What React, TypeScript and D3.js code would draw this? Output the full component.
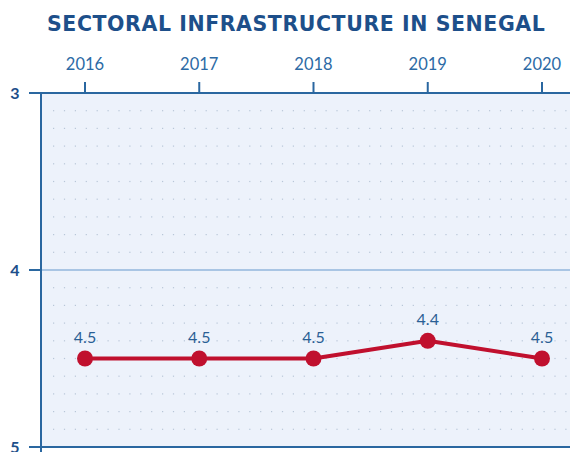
import React from "react";
import * as d3 from "d3";

const years = [2016, 2017, 2018, 2019, 2020];
const values = [4.5, 4.5, 4.5, 4.4, 4.5];
const yTicks = [3, 4, 5];
const title = "SECTORAL INFRASTRUCTURE IN SENEGAL";

export default function App() {
  const W = 570, H = 452;
  const x = d3.scaleLinear().domain([2016, 2020]).range([85, 542]);
  const y = d3.scaleLinear().domain([3, 5]).range([93, 447]);
  const left = 41;
  const right = 600;
  const axisColor = "#2a67a0";
  const line = d3.line<number>().x((_, i) => x(years[i])).y((d) => y(d));
  const minor = d3.range(3.1, 5, 0.1).filter((v) => Math.abs(v - 4) > 0.01);
  const dotXs = d3.range(left + 12, right, 10.9);
  return (
    <svg width={W} height={H} style={{ position: "absolute", left: 0, top: 0, background: "#fff" }}>
      <text x={296} y={31} textAnchor="middle" fontFamily="DejaVu Sans" fontWeight={700} fontSize={20.5} fill="#1d4f8a" letterSpacing={0.2} textLength={498} lengthAdjust="spacing">{title}</text>
      <rect x={left} y={y(3)} width={right - left} height={y(5) - y(3)} fill="#edf2fb" />
      {minor.map((v, i) => (
        <g key={i}>
          {dotXs.map((dx, j) => (
            <rect key={j} x={dx} y={y(v) - 0.6} width={1.2} height={1.2} fill="#b8c6d8" />
          ))}
        </g>
      ))}
      <line x1={left} x2={right} y1={y(4)} y2={y(4)} stroke="#a9c5e4" strokeWidth={2} />
      <line x1={left} x2={right} y1={y(3)} y2={y(3)} stroke={axisColor} strokeWidth={2} />
      <line x1={left} x2={left} y1={y(3)} y2={H} stroke={axisColor} strokeWidth={2} />
      <line x1={left} x2={right} y1={y(5)} y2={y(5)} stroke={axisColor} strokeWidth={2} />
      {years.map((yr) => (
        <g key={yr}>
          <line x1={x(yr)} x2={x(yr)} y1={y(3) - 11} y2={y(3)} stroke={axisColor} strokeWidth={2} />
          <text x={x(yr)} y={70} textAnchor="middle" fontFamily="Lato" fontSize={16.5} fill="#2c6aa5">{yr}</text>
        </g>
      ))}
      {yTicks.map((t) => (
        <g key={t}>
          <line x1={left - 12} x2={left} y1={y(t)} y2={y(t)} stroke={axisColor} strokeWidth={2} />
          <text x={15} y={y(t) + 6} textAnchor="middle" fontFamily="Lato" fontWeight={700} fontSize={16} fill="#1d4f8a">{t}</text>
        </g>
      ))}
      <path d={line(values) || ""} fill="none" stroke="#c0102e" strokeWidth={4} strokeLinejoin="round" />
      {values.map((v, i) => (
        <g key={i}>
          <circle cx={x(years[i])} cy={y(v)} r={8} fill="#c0102e" />
          <text x={x(years[i])} y={y(v) - 16} textAnchor="middle" fontFamily="Lato" fontSize={16} fill="#2a5f95">{v.toFixed(1)}</text>
        </g>
      ))}
    </svg>
  );
}
